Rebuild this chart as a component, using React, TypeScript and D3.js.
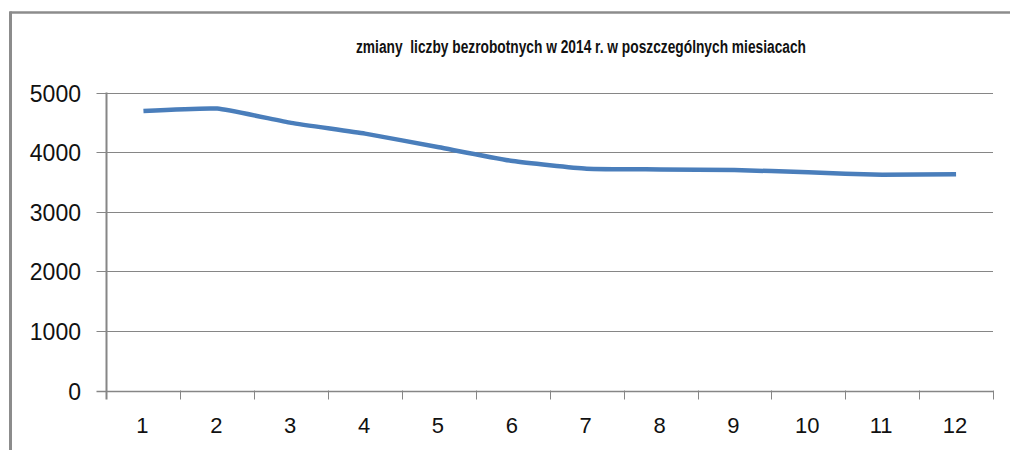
import { useEffect, useRef } from 'react';
import * as d3 from 'd3';

const TITLE = 'zmiany  liczby bezrobotnych w 2014 r. w poszczególnych miesiacach';
const MONTHS = ['1', '2', '3', '4', '5', '6', '7', '8', '9', '10', '11', '12'];
const UNEMPLOYED = [4690, 4730, 4490, 4310, 4080, 3850, 3720, 3710, 3700, 3660, 3620, 3630];
const Y_TICKS = [0, 1000, 2000, 3000, 4000, 5000];

const W = 1010;
const H = 450;
const GRID = '#868686';
const LINE = '#4a7ebb';
const FONT = 'Liberation Sans, Arial, sans-serif';

export default function App() {
  const svgRef = useRef<SVGSVGElement>(null);

  useEffect(() => {
    const svgEl = svgRef.current;
    if (!svgEl) return;
    const svg = d3.select(svgEl);
    svg.selectAll('*').remove();

    // ── plot area ──
    const left = 106.5, right = 993, top = 92.5, bottom = 390.5;

    const x = d3.scaleBand<string>().domain(MONTHS).range([left, right]).padding(0);
    const y = d3.scaleLinear().domain([0, 5000]).range([bottom, top]);

    svg.append('rect').attr('width', W).attr('height', H).attr('fill', '#fff');

    // outer frame (top + left only, as in the source)
    svg.append('line')
      .attr('x1', 9.5).attr('x2', W).attr('y1', 12.5).attr('y2', 12.5)
      .attr('stroke', '#8c8c8c').attr('stroke-width', 2.5);
    svg.append('line')
      .attr('x1', 10.5).attr('x2', 10.5).attr('y1', 11.5).attr('y2', H)
      .attr('stroke', '#8c8c8c').attr('stroke-width', 3);

    // title
    svg.append('text')
      .attr('x', 581).attr('y', 53)
      .attr('text-anchor', 'middle')
      .attr('font-family', FONT)
      .attr('font-weight', 700)
      .attr('font-size', 17.5)
      .attr('textLength', 450)
      .attr('lengthAdjust', 'spacingAndGlyphs')
      .style('white-space', 'pre')
      .attr('fill', '#111')
      .text(TITLE);

    // gridlines + y ticks
    const g = svg.append('g');
    Y_TICKS.forEach(t => {
      const yy = Math.round(y(t)) + 0.5;
      g.append('line')
        .attr('x1', left - 10).attr('x2', right)
        .attr('y1', yy).attr('y2', yy)
        .attr('stroke', GRID).attr('stroke-width', t === 0 ? 1.5 : 1);
      g.append('text')
        .attr('x', 81).attr('y', yy)
        .attr('text-anchor', 'end')
        .attr('dominant-baseline', 'central')
        .attr('font-family', FONT)
        .attr('font-size', 23)
        .attr('fill', '#111')
        .text(String(t));
    });

    // y axis line
    g.append('line')
      .attr('x1', left).attr('x2', left).attr('y1', top).attr('y2', bottom + 9)
      .attr('stroke', GRID).attr('stroke-width', 2);

    // x category boundary ticks
    const bounds = MONTHS.map(m => x(m) ?? 0).concat([right]);
    bounds.slice(1).forEach(bx => {
      g.append('line')
        .attr('x1', Math.round(bx) + 0.5).attr('x2', Math.round(bx) + 0.5)
        .attr('y1', bottom).attr('y2', bottom + 9)
        .attr('stroke', GRID).attr('stroke-width', 1);
    });

    // x labels
    MONTHS.forEach(m => {
      g.append('text')
        .attr('x', (x(m) ?? 0) + x.bandwidth() / 2 - 1)
        .attr('y', 425)
        .attr('text-anchor', 'middle')
        .attr('dominant-baseline', 'central')
        .attr('font-family', FONT)
        .attr('font-size', 22)
        .attr('fill', '#111')
        .text(m);
    });

    // series line (smoothed like the original)
    const lineGen = d3.line<number>()
      .x((_, i) => (x(MONTHS[i]) ?? 0) + x.bandwidth() / 2)
      .y(d => y(d))
      .curve(d3.curveCardinal.tension(0.55));

    svg.append('path')
      .datum(UNEMPLOYED)
      .attr('d', lineGen)
      .attr('fill', 'none')
      .attr('stroke', LINE)
      .attr('stroke-width', 4.5)
      .attr('stroke-linejoin', 'round')
      .attr('stroke-linecap', 'butt');
  }, []);

  return (
    <div style={{ position: 'fixed', left: 0, top: 0, width: W, height: H, background: '#fff' }}>
      <svg ref={svgRef} width={W} height={H} style={{ display: 'block' }} />
    </div>
  );
}
